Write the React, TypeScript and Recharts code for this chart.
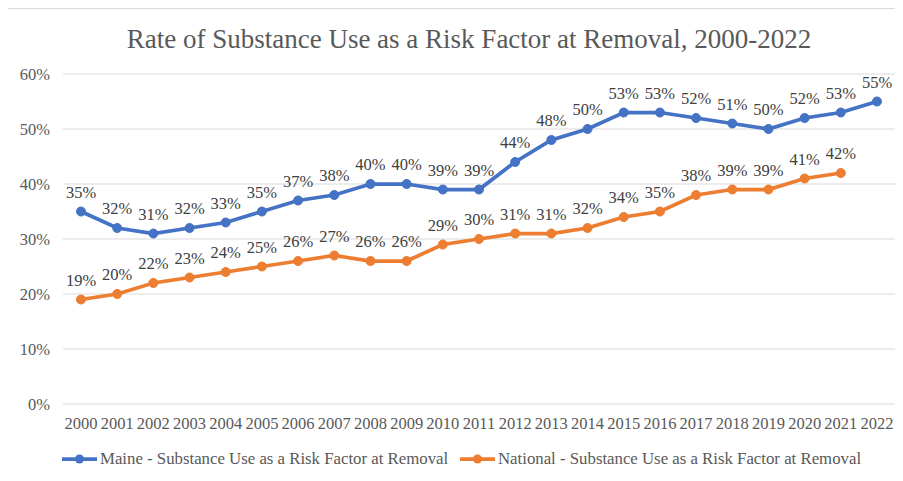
import React from 'react';
import { LineChart, Line, XAxis, YAxis, CartesianGrid, Legend, LabelList } from 'recharts';

const years = ['2000', '2001', '2002', '2003', '2004', '2005', '2006', '2007', '2008', '2009', '2010', '2011',
  '2012', '2013', '2014', '2015', '2016', '2017', '2018', '2019', '2020', '2021', '2022'];
const maine = [35, 32, 31, 32, 33, 35, 37, 38, 40, 40, 39, 39, 44, 48, 50, 53, 53, 52, 51, 50, 52, 53, 55];
const national = [19, 20, 22, 23, 24, 25, 26, 27, 26, 26, 29, 30, 31, 31, 32, 34, 35, 38, 39, 39, 41, 42, null];
const yTicks = [0, 10, 20, 30, 40, 50, 60];

const MAINE = '#4472C4';
const NATIONAL = '#ED7D31';
const FONT = 'Liberation Serif, Tinos, DejaVu Serif, serif';

const data = years.map((y, i) => ({ year: y, maine: maine[i], national: national[i] }));

const renderLabel = (props: any) => {
  const { x, y, value } = props;
  if (value == null) return null;
  return (
    <text x={x} y={y - 14} textAnchor="middle" fill="#404040" fontSize={16.5} style={{ fontFamily: FONT }}>
      {value}%
    </text>
  );
};

const renderLegend = () => {
  const items = [
    { x: 54, label: 'Maine - Substance Use as a Risk Factor at Removal', color: MAINE },
    { x: 452, label: 'National - Substance Use as a Risk Factor at Removal', color: NATIONAL },
  ];
  return (
    <svg width={895} height={30} style={{ display: 'block' }}>
      {items.map((it) => (
        <g key={it.label}>
          <line x1={it.x} x2={it.x + 35} y1={11} y2={11} stroke={it.color} strokeWidth={3.75} />
          <circle cx={it.x + 17.5} cy={11} r={4.5} fill={it.color} />
          <text x={it.x + 38} y={16} fill="#595959" fontSize={16.8} style={{ fontFamily: FONT }}>{it.label}</text>
        </g>
      ))}
    </svg>
  );
};

export default function App() {
  return (
    <div style={{ position: 'relative', width: 895, height: 473, overflow: 'hidden', fontFamily: FONT }}>
      <div style={{ position: 'absolute', left: -1, top: 0, width: 920, height: 500, border: '1px solid #d9d9d9', boxSizing: 'border-box', background: '#fff' }} />
      <div
        style={{
          position: 'absolute', left: 461, top: 18, transform: 'translateX(-50%)', whiteSpace: 'nowrap',
          fontFamily: FONT, fontSize: 27, lineHeight: '26px', color: '#595959',
        }}
      >
        Rate of Substance Use as a Risk Factor at Removal, 2000-2022
      </div>
      <div style={{ position: 'absolute', left: 0, top: 0 }}>
        <LineChart width={895} height={473} data={data} margin={{ top: 66, right: 8, bottom: 47, left: 0 }} style={{ fontFamily: FONT }}>
          <CartesianGrid horizontal vertical={false} stroke="#d9d9d9" strokeWidth={1} />
          <XAxis
            dataKey="year"
            interval={0}
            axisLine={false}
            tickLine={false}
            tickSize={0}
            tickMargin={13}
            height={30}
            padding={{ left: 18, right: 18 }}
            tick={{ fill: '#595959', fontSize: 16.5, fontFamily: FONT }}
          />
          <YAxis
            domain={[0, 60]}
            ticks={yTicks}
            width={55}
            axisLine={false}
            tickLine={false}
            tickSize={0}
            tickMargin={13}
            tickFormatter={(v) => `${v}%`}
            tick={{ fill: '#595959', fontSize: 16.5, fontFamily: FONT }}
          />
          <Legend
            layout="horizontal"
            verticalAlign="middle"
            align="center"
            content={renderLegend}
            wrapperStyle={{ position: 'absolute', left: 0, top: 440, width: 895, height: 30 }}
          />
          <Line
            dataKey="maine"
            stroke={MAINE}
            strokeWidth={3.75}
            dot={{ r: 4.5, fill: MAINE, stroke: MAINE, strokeWidth: 1 }}
            isAnimationActive={false}
          >
            <LabelList dataKey="maine" content={renderLabel} />
          </Line>
          <Line
            dataKey="national"
            stroke={NATIONAL}
            strokeWidth={3.75}
            dot={{ r: 4.5, fill: NATIONAL, stroke: NATIONAL, strokeWidth: 1 }}
            isAnimationActive={false}
          >
            <LabelList dataKey="national" content={renderLabel} />
          </Line>
        </LineChart>
      </div>
    </div>
  );
}
